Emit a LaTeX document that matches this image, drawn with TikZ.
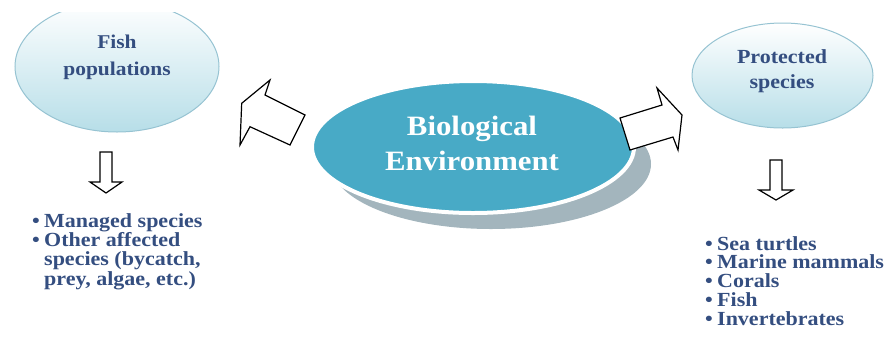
\documentclass[tikz,border=0pt]{standalone}
\usepackage{fontspec}
\setmainfont{Liberation Serif}[FakeStretch=1.1]
\usetikzlibrary{shapes.geometric}
\definecolor{txtblue}{RGB}{52,78,128}
\definecolor{midblue}{RGB}{72,170,198}
\definecolor{shadowgrey}{RGB}{163,181,189}
\definecolor{lightcyan}{RGB}{183,222,232}
\definecolor{rimblue}{RGB}{150,195,210}
\tikzset{
  pale/.style={ellipse, draw=rimblue, line width=1pt, top color=white, bottom color=lightcyan, inner sep=0pt},
  blockarrow/.style={draw=black, fill=white, line width=1.2pt, line join=miter},
  paletext/.style={text=txtblue, font=\bfseries, align=center, inner sep=0pt},
  listtext/.style={text=txtblue, align=left, inner sep=0pt},
}
\newcommand{\bul}{\makebox[12pt][l]{•}}
\begin{document}
\begin{tikzpicture}[x=1pt,y=-1pt]
\useasboundingbox (0,0) rectangle (885,360);
% fish populations
\begin{scope}
\clip (0,12) rectangle (885,360);
\node[pale, minimum width=204pt, minimum height=131pt] (fish) at (117,66.5) {};
\end{scope}
\node[paletext, anchor=base, font=\bfseries\fontsize{19.5}{27}\selectfont] (fishtxt) at (117,75) {Fish\\populations};
% protected species
\node[pale, minimum width=181pt, minimum height=105pt] (prot) at (782.5,75.5) {};
\node[paletext, anchor=base, font=\bfseries\fontsize{20}{25}\selectfont] (prottxt) at (782,88) {Protected\\species};
% central ellipse
\node[ellipse, fill=shadowgrey, minimum width=320pt, minimum height=130pt, inner sep=0pt] (shadow) at (491,164) {};
\node[ellipse, fill=midblue, draw=white, line width=4pt, minimum width=322pt, minimum height=132pt, inner sep=0pt] (bio) at (473,147) {};
\node[text=white, anchor=base, align=center, inner sep=0pt, font=\bfseries\fontsize{28}{35}\selectfont] (biotxt) at (472,170) {Biological\\Environment};
% block arrows
\coordinate (la1) at (241.7,103.3);
\coordinate (la2) at (270,80);
\coordinate (la3) at (265,95);
\coordinate (la4) at (305,115);
\coordinate (la5) at (290,145);
\coordinate (la6) at (250,126.7);
\coordinate (la7) at (240,145);
\draw[blockarrow] (la1) -- (la2) -- (la3) -- (la4) -- (la5) -- (la6) -- (la7) -- cycle;
\coordinate (ra1) at (620,118);
\coordinate (ra2) at (662,105);
\coordinate (ra3) at (657,88);
\coordinate (ra4) at (682,115);
\coordinate (ra5) at (678,150);
\coordinate (ra6) at (673,137);
\coordinate (ra7) at (630,150);
\draw[blockarrow] (ra1) -- (ra2) -- (ra3) -- (ra4) -- (ra5) -- (ra6) -- (ra7) -- cycle;
% down arrows
\draw[blockarrow] (100,152) -- (112,152) -- (112,182) -- (122,182) -- (106,193) -- (90,182) -- (100,182) -- cycle;
\draw[blockarrow] (770,160) -- (782,160) -- (782,190) -- (793,190) -- (776,200) -- (759,190) -- (770,190) -- cycle;
% lists
\node[listtext, anchor=base west, font=\bfseries\fontsize{20}{19.3}\selectfont] (leftlist) at (32,285)
 {\bul Managed species\\\bul Other affected\\\hspace*{12pt}species (bycatch,\\\hspace*{12pt}prey, algae, etc.)};
\node[listtext, anchor=base west, font=\bfseries\fontsize{20}{18.75}\selectfont] (rightlist) at (705,325)
 {\bul Sea turtles\\\bul Marine mammals\\\bul Corals\\\bul Fish\\\bul Invertebrates};
\end{tikzpicture}
\end{document}
